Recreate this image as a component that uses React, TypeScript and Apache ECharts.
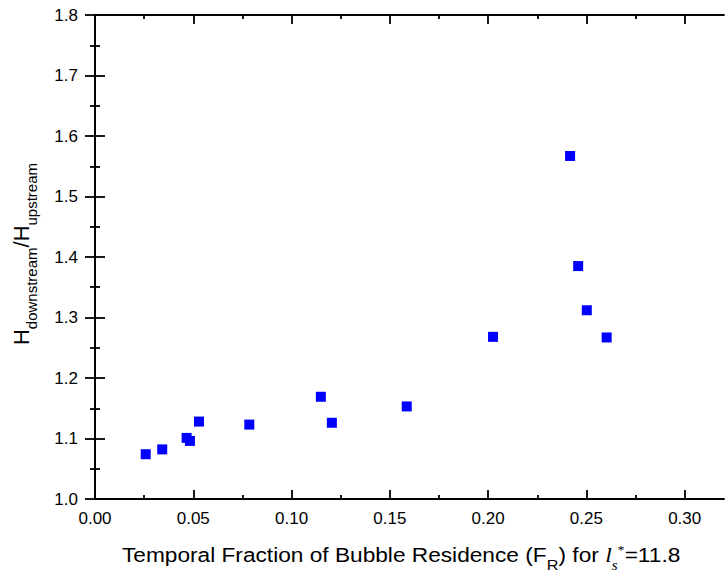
import React, { useEffect, useRef } from "react";
import * as echarts from "echarts";

// Temporal fraction of bubble residence F_R (x) and height ratio (y)
const fractionResidence = [0.0258, 0.0342, 0.0466, 0.0483, 0.0529, 0.0785, 0.1149, 0.1205, 0.1586, 0.2025, 0.2417, 0.2458, 0.2502, 0.2603];
const heightRatio = [1.074, 1.082, 1.101, 1.096, 1.128, 1.123, 1.169, 1.126, 1.153, 1.268, 1.567, 1.385, 1.312, 1.267];

const xMajorTicks = [0, 0.05, 0.1, 0.15, 0.2, 0.25, 0.3];
const xMinorTicks = [0.025, 0.075, 0.125, 0.175, 0.225, 0.275];
const xRange = [0, 0.32];
const yRange = [1.0, 1.8];
const yStep = 0.1;

const SANS = "'Liberation Sans', Arial, Helvetica, sans-serif";
const SERIF = "'Liberation Serif', 'Times New Roman', serif";

export default function App() {
  const ref = useRef<HTMLDivElement>(null);
  useEffect(() => {
    if (!ref.current) return;
    const chart = echarts.init(ref.current, null, { renderer: "svg" });
    const line = { color: "#000", width: 1.8 };
    const baseX = {
      type: "value",
      min: xRange[0],
      max: xRange[1],
      splitLine: { show: false },
      axisLine: { show: true, lineStyle: line },
    };
    const baseY = {
      type: "value",
      min: yRange[0],
      max: yRange[1],
      interval: yStep,
      splitLine: { show: false },
      axisLine: { show: true, lineStyle: line },
      axisTick: { show: true, inside: false, length: 10, lineStyle: line },
      minorTick: { show: true, splitNumber: 2, length: 5, lineStyle: line },
    };
    chart.setOption({
      animation: false,
      grid: { left: 95, right: 3, top: 15, bottom: 74 },
      xAxis: [
        {
          ...baseX,
          position: "bottom",
          axisTick: { show: true, inside: true, length: 9, customValues: xMajorTicks, lineStyle: line },
          axisLabel: {
            customValues: xMajorTicks,
            formatter: (v: number) => v.toFixed(2),
            margin: 11,
            fontSize: 17,
            color: "#000",
            fontFamily: SANS,
          },
        },
        {
          ...baseX,
          position: "bottom",
          axisLine: { show: false },
          axisTick: { show: true, inside: true, length: 4, customValues: xMinorTicks, lineStyle: line },
          axisLabel: { show: false },
        },
        {
          ...baseX,
          position: "top",
          axisTick: { show: true, inside: true, length: 9, customValues: xMajorTicks, lineStyle: line },
          axisLabel: { show: false },
        },
        {
          ...baseX,
          position: "top",
          axisLine: { show: false },
          axisTick: { show: true, inside: true, length: 4, customValues: xMinorTicks, lineStyle: line },
          axisLabel: { show: false },
        },
      ],
      yAxis: [
        {
          ...baseY,
          position: "left",
          axisLabel: {
            formatter: (v: number) => v.toFixed(1),
            margin: 17,
            fontSize: 17,
            color: "#000",
            fontFamily: SANS,
          },
        },
        {
          ...baseY,
          position: "right",
          axisLabel: { show: false },
        },
      ],
      series: [
        {
          type: "scatter",
          xAxisIndex: 0,
          yAxisIndex: 0,
          symbol: "rect",
          symbolSize: 10,
          itemStyle: { color: "#0000ff", opacity: 1 },
          data: fractionResidence.map((x, i) => [x, heightRatio[i]]),
        },
      ],
      graphic: [
        {
          type: "text",
          x: 122,
          y: 555,
          scaleX: 1.08,
          style: {
            text: "{m|Temporal Fraction of Bubble Residence (F}{sub|R}{m|) for }{it|l}{s|s}{sup|*}{m|=11.8}",
            align: "left",
            verticalAlign: "middle",
            rich: {
              m: { fontSize: 21, fontFamily: SANS, fill: "#000" },
              sub: { fontSize: 15, fontFamily: SANS, fill: "#000", padding: [19, 0, 0, 0] },
              it: { fontSize: 22, fontFamily: SERIF, fontStyle: "italic", fill: "#000" },
              s: { fontSize: 14, fontFamily: SERIF, fontStyle: "italic", fill: "#000", padding: [20, 0, 0, 0] },
              sup: { fontSize: 13, fontFamily: SERIF, fill: "#000", padding: [0, 0, 10, 0] },
            },
          },
        },
        {
          type: "text",
          x: 21,
          y: 254,
          rotation: Math.PI / 2,
          style: {
            text: "{m|H}{sub|downstream}{m|/H}{sub|upstream}",
            align: "center",
            verticalAlign: "middle",
            rich: {
              m: { fontSize: 22, fontFamily: SANS, fill: "#000" },
              sub: { fontSize: 15, fontFamily: SANS, fill: "#000", padding: [20, 0, 0, 0] },
            },
          },
        },
      ],
    });
    return () => chart.dispose();
  }, []);
  return (
    <div
      ref={ref}
      style={{ position: "fixed", left: 0, top: 0, width: 727, height: 573, background: "#fff" }}
    />
  );
}
